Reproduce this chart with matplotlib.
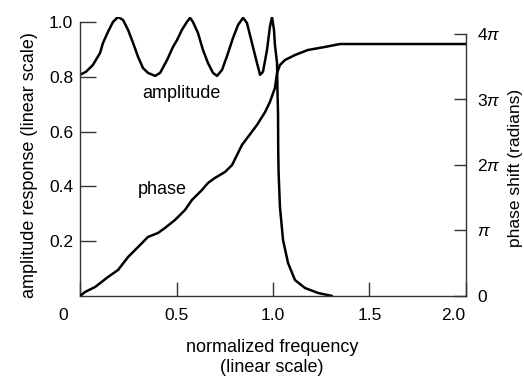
import numpy as np
import matplotlib
matplotlib.use("Agg")
import matplotlib.pyplot as plt
import matplotlib.transforms as mtransforms

plt.rcParams['font.family'] = ['Liberation Sans', 'DejaVu Sans']
plt.rcParams['mathtext.fontset'] = 'custom'
plt.rcParams['mathtext.rm'] = 'Liberation Sans'
plt.rcParams['mathtext.it'] = 'Liberation Sans:italic'

# ---- data ----
amp_freq = [0.000, 0.031, 0.067, 0.104, 0.119, 0.145, 0.171, 0.197, 0.223, 0.249,
            0.275, 0.301, 0.326, 0.352, 0.389, 0.415, 0.451, 0.482, 0.503, 0.528,
            0.554, 0.570, 0.585, 0.611, 0.637, 0.663, 0.689, 0.710, 0.736, 0.762,
            0.793, 0.819, 0.845, 0.865, 0.891, 0.917, 0.933, 0.948, 0.969, 0.984,
            0.995, 1.005, 1.010, 1.021, 1.023, 1.026, 1.027, 1.029, 1.036, 1.052,
            1.078, 1.114, 1.166, 1.233, 1.306]
amp_vals = [0.807, 0.818, 0.843, 0.887, 0.923, 0.964, 1.000, 1.018, 1.007, 0.971,
            0.923, 0.872, 0.832, 0.814, 0.803, 0.814, 0.861, 0.909, 0.934, 0.971,
            1.000, 1.015, 1.000, 0.960, 0.898, 0.850, 0.814, 0.803, 0.825, 0.876,
            0.942, 0.989, 1.015, 0.996, 0.923, 0.850, 0.807, 0.818, 0.898, 0.982,
            1.018, 0.971, 0.916, 0.850, 0.752, 0.668, 0.533, 0.449, 0.325, 0.204,
            0.120, 0.058, 0.029, 0.011, 0.000]

phase_freq = [0.000, 0.026, 0.078, 0.145, 0.197, 0.249, 0.301, 0.352, 0.404, 0.440,
              0.492, 0.544, 0.580, 0.632, 0.663, 0.699, 0.751, 0.788, 0.839, 0.870,
              0.917, 0.959, 0.984, 1.010, 1.021, 1.036, 1.062, 1.114, 1.181, 1.269,
              1.347, 2.000]
phase_pi = [0.000, 0.061, 0.137, 0.290, 0.397, 0.595, 0.748, 0.901, 0.962, 1.038,
            1.160, 1.313, 1.466, 1.618, 1.725, 1.802, 1.893, 2.000, 2.305, 2.427,
            2.611, 2.809, 2.962, 3.176, 3.405, 3.527, 3.603, 3.679, 3.756, 3.802,
            3.847, 3.847]

x_ticks = [0, 0.5, 1.0, 1.5, 2.0]
x_labels = ['0', '0.5', '1.0', '1.5', '2.0']
amp_ticks = [0.2, 0.4, 0.6, 0.8, 1.0]
amp_labels = ['0.2', '0.4', '0.6', '0.8', '1.0']
phase_ticks_pi = [0, 1, 2, 3, 4]
phase_labels = ['0', r'$\pi$', r'2$\pi$', r'3$\pi$', r'4$\pi$']

# ---- figure ----
fig = plt.figure(figsize=(5.24, 3.77), dpi=100)
ax = fig.add_axes([0.1527, 0.2149, 0.7366, 0.7401])
ax2 = ax.twinx()

line_kw = dict(color='black', lw=1.8, solid_capstyle='round', solid_joinstyle='round')
ax.plot(amp_freq, amp_vals, **line_kw)
ax2.plot(phase_freq, np.array(phase_pi) * np.pi, **line_kw)

ax.set_xlim(0, 2.0)
ax.set_ylim(0, 1.018)
ax2.set_ylim(0, 4.26 * np.pi)

spine_col = '#333333'
for a in (ax, ax2):
    a.spines['top'].set_visible(False)
    for s in a.spines.values():
        s.set_color(spine_col)
        s.set_linewidth(1.0)
ax.spines['left'].set_bounds(0, 1.0)
ax2.spines['right'].set_bounds(0, 4 * np.pi)
ax2.spines['left'].set_visible(False)
ax2.spines['bottom'].set_visible(False)
ax.spines['right'].set_visible(False)

ax.set_xticks(x_ticks)
ax.set_xticklabels(x_labels)
ax.set_yticks(amp_ticks)
ax.set_yticklabels(amp_labels)
ax2.set_yticks(np.array(phase_ticks_pi) * np.pi)
ax2.set_yticklabels(phase_labels)

ax.tick_params(axis='x', direction='in', length=10, width=1.0, color=spine_col,
               pad=9, labelsize=12.5)
ax.tick_params(axis='y', direction='in', length=11.5, width=1.0, color=spine_col,
               pad=5, labelsize=12.5)
ax2.tick_params(axis='y', direction='in', length=8.6, width=1.0, color=spine_col,
                pad=8, labelsize=12.5)

# shift the origin and last x labels as in the original
xl = ax.get_xticklabels()
xl[0].set_transform(xl[0].get_transform() +
                    mtransforms.ScaledTranslation(-17 / 100, 0, fig.dpi_scale_trans))
xl[-1].set_transform(xl[-1].get_transform() +
                     mtransforms.ScaledTranslation(-13 / 100, 0, fig.dpi_scale_trans))

ax.set_ylabel('amplitude response (linear scale)', fontsize=13)
ax.yaxis.set_label_coords(-0.11, 0.47)
ax2.set_ylabel('phase shift (radians)', fontsize=12.5)
ax2.yaxis.set_label_coords(1.108, 0.46)

ax.text(0.497, -0.183, 'normalized frequency', transform=ax.transAxes,
        ha='center', va='center', fontsize=13)
ax.text(0.497, -0.258, '(linear scale)', transform=ax.transAxes,
        ha='center', va='center', fontsize=13)

ax.text(0.523, 0.737, 'amplitude', ha='center', va='center', fontsize=13)
ax.text(0.425, 0.387, 'phase', ha='center', va='center', fontsize=13)

fig.savefig('out.png', dpi=100)
